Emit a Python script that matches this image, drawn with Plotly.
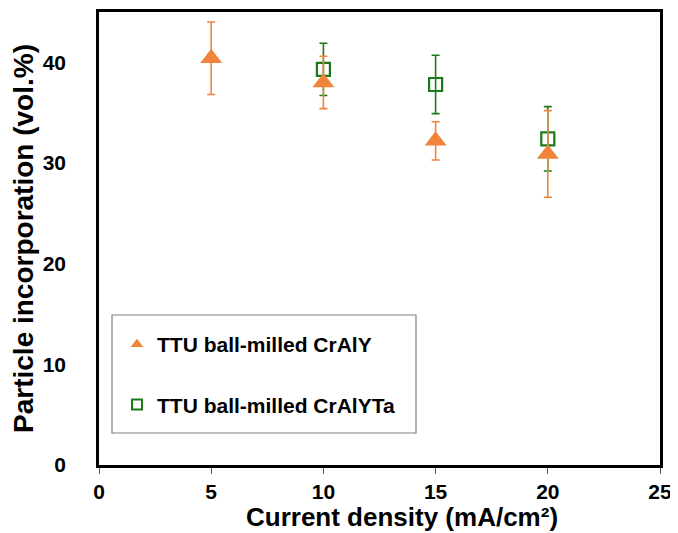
import plotly.graph_objects as go

current_density = [5, 10, 15, 20]
craly_values = [40.4, 38.0, 32.2, 30.9]
craly_errors = [3.6, 2.6, 1.9, 4.3]

current_density_ta = [10, 15, 20]
cralyta_values = [39.3, 37.8, 32.4]
cralyta_errors = [2.6, 2.9, 3.2]

x_ticks = [0, 5, 10, 15, 20, 25]
y_ticks = [0, 10, 20, 30, 40]

x_title = "Current density (mA/cm²)"
y_title = "Particle incorporation (vol.%)"

ORANGE = "#F0843A"
GREEN = "#1A7A1A"
FONT = "Liberation Sans, Arial, sans-serif"

# page body has an 8px margin; figure is sized to the visible area
W, H = 670, 525
PL, PR, PT, PB = 91, 652, 4, 457  # plot area in figure pixels

def px_x(p):
    return (p - 8 - PL) / (PR - PL)

def px_y(p):
    return (PB - (p - 8)) / (PB - PT)

fig = go.Figure()

fig.add_trace(go.Scatter(
    x=current_density_ta, y=cralyta_values, mode="markers",
    name="TTU ball-milled CrAlYTa", showlegend=False,
    marker=dict(symbol="square-open", size=13, color=GREEN, line=dict(width=2.2, color=GREEN)),
    error_y=dict(type="data", array=cralyta_errors, visible=True, color=GREEN, thickness=1.6, width=4),
))
fig.add_trace(go.Scatter(
    x=current_density, y=craly_values, mode="markers",
    name="TTU ball-milled CrAlY", showlegend=False,
    marker=dict(symbol="triangle-up", size=19, color=ORANGE),
    error_y=dict(type="data", array=craly_errors, visible=True, color=ORANGE, thickness=1.6, width=4),
))
# legend entries (smaller symbols as in the reference legend)
fig.add_trace(go.Scatter(
    x=[None], y=[None], mode="markers", name="TTU ball-milled CrAlY",
    legendrank=1, legendgroup="a",
    marker=dict(symbol="triangle-up", size=11, color=ORANGE),
))
fig.add_trace(go.Scatter(
    x=[None], y=[None], mode="markers", name="TTU ball-milled CrAlYTa",
    legendrank=2, legendgroup="b",
    marker=dict(symbol="square-open", size=10, color=GREEN, line=dict(width=2, color=GREEN)),
))

fig.add_shape(type="rect", xref="paper", yref="paper",
              x0=px_x(112), x1=px_x(416), y0=px_y(433), y1=px_y(315),
              line=dict(color="#808080", width=1.2), fillcolor="rgba(0,0,0,0)", layer="below")

fig.add_annotation(
    text=x_title, xref="paper", yref="paper",
    x=px_x(402), y=px_y(516.5), xanchor="center", yanchor="middle",
    showarrow=False, font=dict(size=26, family=FONT, color="black", weight="bold"),
)

fig.update_layout(
    width=W, height=H,
    margin=dict(l=PL, r=W - PR, t=PT, b=H - PB, autoexpand=False),
    paper_bgcolor="white", plot_bgcolor="white",
    font=dict(family=FONT, color="black", weight="bold"),
    showlegend=True,
    legend=dict(
        x=px_x(117), y=px_y(324), xanchor="left", yanchor="top",
        bgcolor="rgba(0,0,0,0)", borderwidth=0,
        font=dict(size=21, family=FONT, color="black", weight="bold"),
        tracegroupgap=30, itemsizing="trace",
    ),
    xaxis=dict(
        range=[0, 25], tickvals=x_ticks, ticktext=[str(v) for v in x_ticks],
        showline=True, linecolor="black", linewidth=2.5, mirror=True,
        ticks="outside", ticklen=6, tickcolor="#555", tickwidth=1,
        showgrid=False, zeroline=False, automargin=False,
        tickfont=dict(size=21, family=FONT, weight="bold"),
    ),
    yaxis=dict(
        range=[0, 45], tickvals=y_ticks, ticktext=[str(v) for v in y_ticks],
        showline=True, linecolor="black", linewidth=2.5, mirror=True,
        ticks="", showgrid=False, zeroline=False, automargin=False,
        ticklabelstandoff=26,
        tickfont=dict(size=21, family=FONT, weight="bold"),
        title=dict(text=y_title, font=dict(size=28, family=FONT, weight="bold"), standoff=8),
    ),
)

fig.write_html("out.html")
